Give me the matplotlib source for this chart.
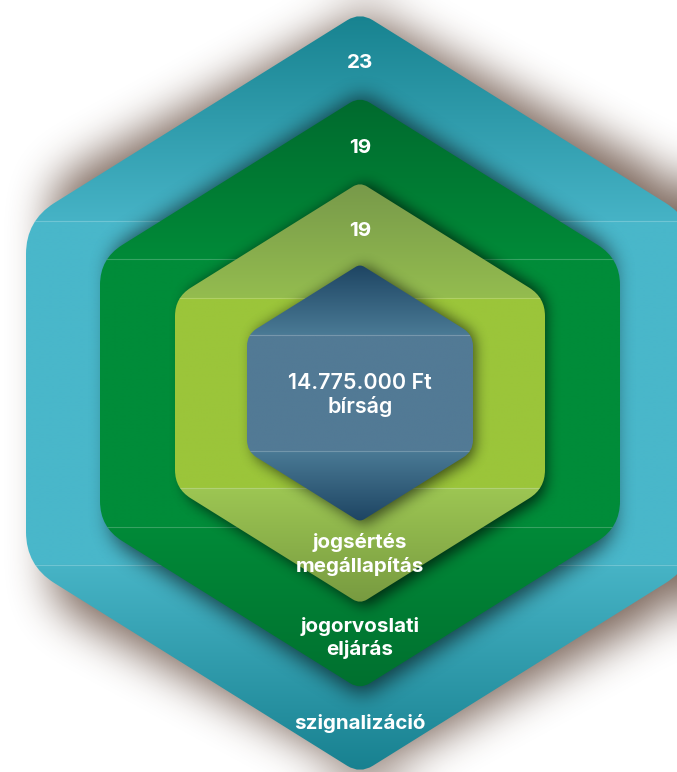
import numpy as np
import matplotlib
matplotlib.use("Agg")
import matplotlib.pyplot as plt
from matplotlib.path import Path
from matplotlib.patches import PathPatch
from matplotlib.colors import to_rgb

# --- data -------------------------------------------------------------
stage_labels = ["szignalizáció", "jogorvoslati\neljárás", "jogsértés\nmegállapítás"]
stage_counts = [23, 19, 19]
fine_amount = "14.775.000 Ft"
fine_label = "bírság"

# --- layout / style ---------------------------------------------------
W, H = 677, 772
CX, CY = 360, 393
half_widths = [334, 260, 185, 113]        # outer -> inner
SHOULDER = 0.516                           # half height of vertical side / half width
TIP = 1.14                                 # half height to tip / half width

# colour stops: tip, shoulder, middle band, lower shoulder, bottom tip
layer_colors = [
    ["#17828f", "#46b3c6", "#49b7ca", "#47b4c6", "#17808f"],
    ["#006a2e", "#008a38", "#008c39", "#008a38", "#00702f"],
    ["#77994a", "#94bc4f", "#9bc53a", "#9dc653", "#779a40"],
    ["#1d4462", "#4a7a95", "#527a95", "#4a7a95", "#1d4462"],
]
shadow_style = [  # colour, alpha, blur, dx, dy, width scale, shoulder scale, tip scale
    ("#4a2c1c", 0.72, 20, 6, 0, 0.94, 1.22, 1.0),
    ("#000000", 0.60, 9, 2, 2, 0.97, 1.08, 1.02),
    ("#000000", 0.65, 6, 5, 2, 0.98, 1.05, 1.01),
    ("#000000", 0.60, 6, 4, 2, 0.98, 1.05, 1.01),
]

plt.rcParams["font.family"] = ["Inter", "DejaVu Sans"]

fig = plt.figure(figsize=(6.77, 7.72), dpi=100)
ax = fig.add_axes([0, 0, 1, 1])

yy, xx = np.mgrid[0:H, 0:W] + 0.5
grid = np.column_stack([xx.ravel(), yy.ravel()])


def hex_points(w, s_sh=1.0, s_tip=1.0, dx=0.0, dy=0.0):
    hr, ht = w * SHOULDER * s_sh, w * TIP * s_tip
    cx, cy = CX + dx, CY + dy
    return np.array([(cx, cy - ht), (cx + w, cy - hr), (cx + w, cy + hr),
                     (cx, cy + ht), (cx - w, cy + hr), (cx - w, cy - hr)])


def rounded_path(pts, w):
    radii = [0.045 * w, 0.1 * w, 0.1 * w, 0.045 * w, 0.1 * w, 0.1 * w]
    verts, codes = [], []
    n = len(pts)
    for i in range(n):
        p, prev, nxt = pts[i], pts[i - 1], pts[(i + 1) % n]
        a = p + (prev - p) / np.linalg.norm(prev - p) * radii[i]
        b = p + (nxt - p) / np.linalg.norm(nxt - p) * radii[i]
        verts.append(a)
        codes.append(Path.MOVETO if i == 0 else Path.LINETO)
        verts += [p, b]
        codes += [Path.CURVE3, Path.CURVE3]
    verts.append(verts[0])
    codes.append(Path.CLOSEPOLY)
    return Path(verts, codes)


def box_blur(a, r):
    for _ in range(3):
        for axis in (0, 1):
            a = np.moveaxis(a, axis, 0)
            pad = np.pad(a, ((r + 1, r), (0, 0)), mode="edge")
            c = np.cumsum(pad, axis=0)
            a = (c[2 * r + 1:] - c[:-2 * r - 1]) / (2 * r + 1)
            a = np.moveaxis(a, 0, axis)
    return a


def draw_shadow(w, style, z):
    color, alpha, r, dx, dy, sx, s_sh, s_tip = style
    pts = hex_points(w, s_sh / sx, s_tip / sx, dx, dy)
    pts[:, 0] = (pts[:, 0] - CX - dx) * sx + CX + dx
    pts[:, 1] = (pts[:, 1] - CY - dy) * sx + CY + dy
    poly = rounded_path(pts, w * sx).to_polygons()[0]
    mask = Path(poly).contains_points(grid).reshape(H, W).astype(float)
    mask = box_blur(mask, r)
    img = np.zeros((H, W, 4))
    img[..., :3] = to_rgb(color)
    img[..., 3] = mask * alpha
    ax.imshow(img, extent=(0, W, H, 0), origin="upper", zorder=z,
              interpolation="bilinear")


def draw_layer(w, colors, z):
    pts = hex_points(w)
    path = rounded_path(pts, w)
    top, bot = pts[0][1], pts[3][1]
    hr_top, hr_bot = pts[1][1], pts[2][1]
    ys = np.linspace(top, bot, 600)
    stops = [top, hr_top, hr_top + 0.5, hr_bot - 0.5, hr_bot, bot]
    cols = np.array([to_rgb(c) for c in
                     [colors[0], colors[1], colors[2], colors[2], colors[3], colors[4]]])
    grad = np.stack([np.interp(ys, stops, cols[:, k]) for k in range(3)], axis=-1)
    grad = grad[:, None, :]
    patch = PathPatch(path, facecolor="none", edgecolor="none", zorder=z)
    ax.add_patch(patch)
    im = ax.imshow(grad, extent=(CX - w, CX + w, bot, top), origin="upper",
                   zorder=z, aspect="auto", interpolation="bilinear")
    im.set_clip_path(patch)
    for yl in (hr_top, hr_bot):
        ln, = ax.plot([CX - w, CX + w], [yl, yl], color="white", alpha=0.22,
                      lw=0.8, zorder=z + 0.1)
        ln.set_clip_path(patch)
    return pts


layers = []
for i, w in enumerate(half_widths):
    draw_shadow(w, shadow_style[i], 2 * i)
    layers.append(draw_layer(w, layer_colors[i], 2 * i + 1))

# --- labels -----------------------------------------------------------
txt = dict(color="white", fontsize=14.8, fontweight="bold", ha="center",
           va="center", zorder=20, linespacing=1.3)
for i in range(3):
    top_i, top_n = layers[i][0][1], layers[i + 1][0][1]
    ax.text(CX, top_i + 0.6 * (top_n - top_i), str(stage_counts[i]), **txt)
    bot_i, bot_n = layers[i][3][1], layers[i + 1][3][1]
    ax.text(CX, bot_n + 0.4 * (bot_i - bot_n), stage_labels[i], **txt)

txt.update(fontsize=15.5, fontweight="semibold", linespacing=1.2)
ax.text(CX, CY + 2, f"{fine_amount}\n{fine_label}", **txt)

ax.set_xlim(0, W)
ax.set_ylim(H, 0)
ax.axis("off")
fig.savefig("out.png", dpi=100, facecolor="white")
